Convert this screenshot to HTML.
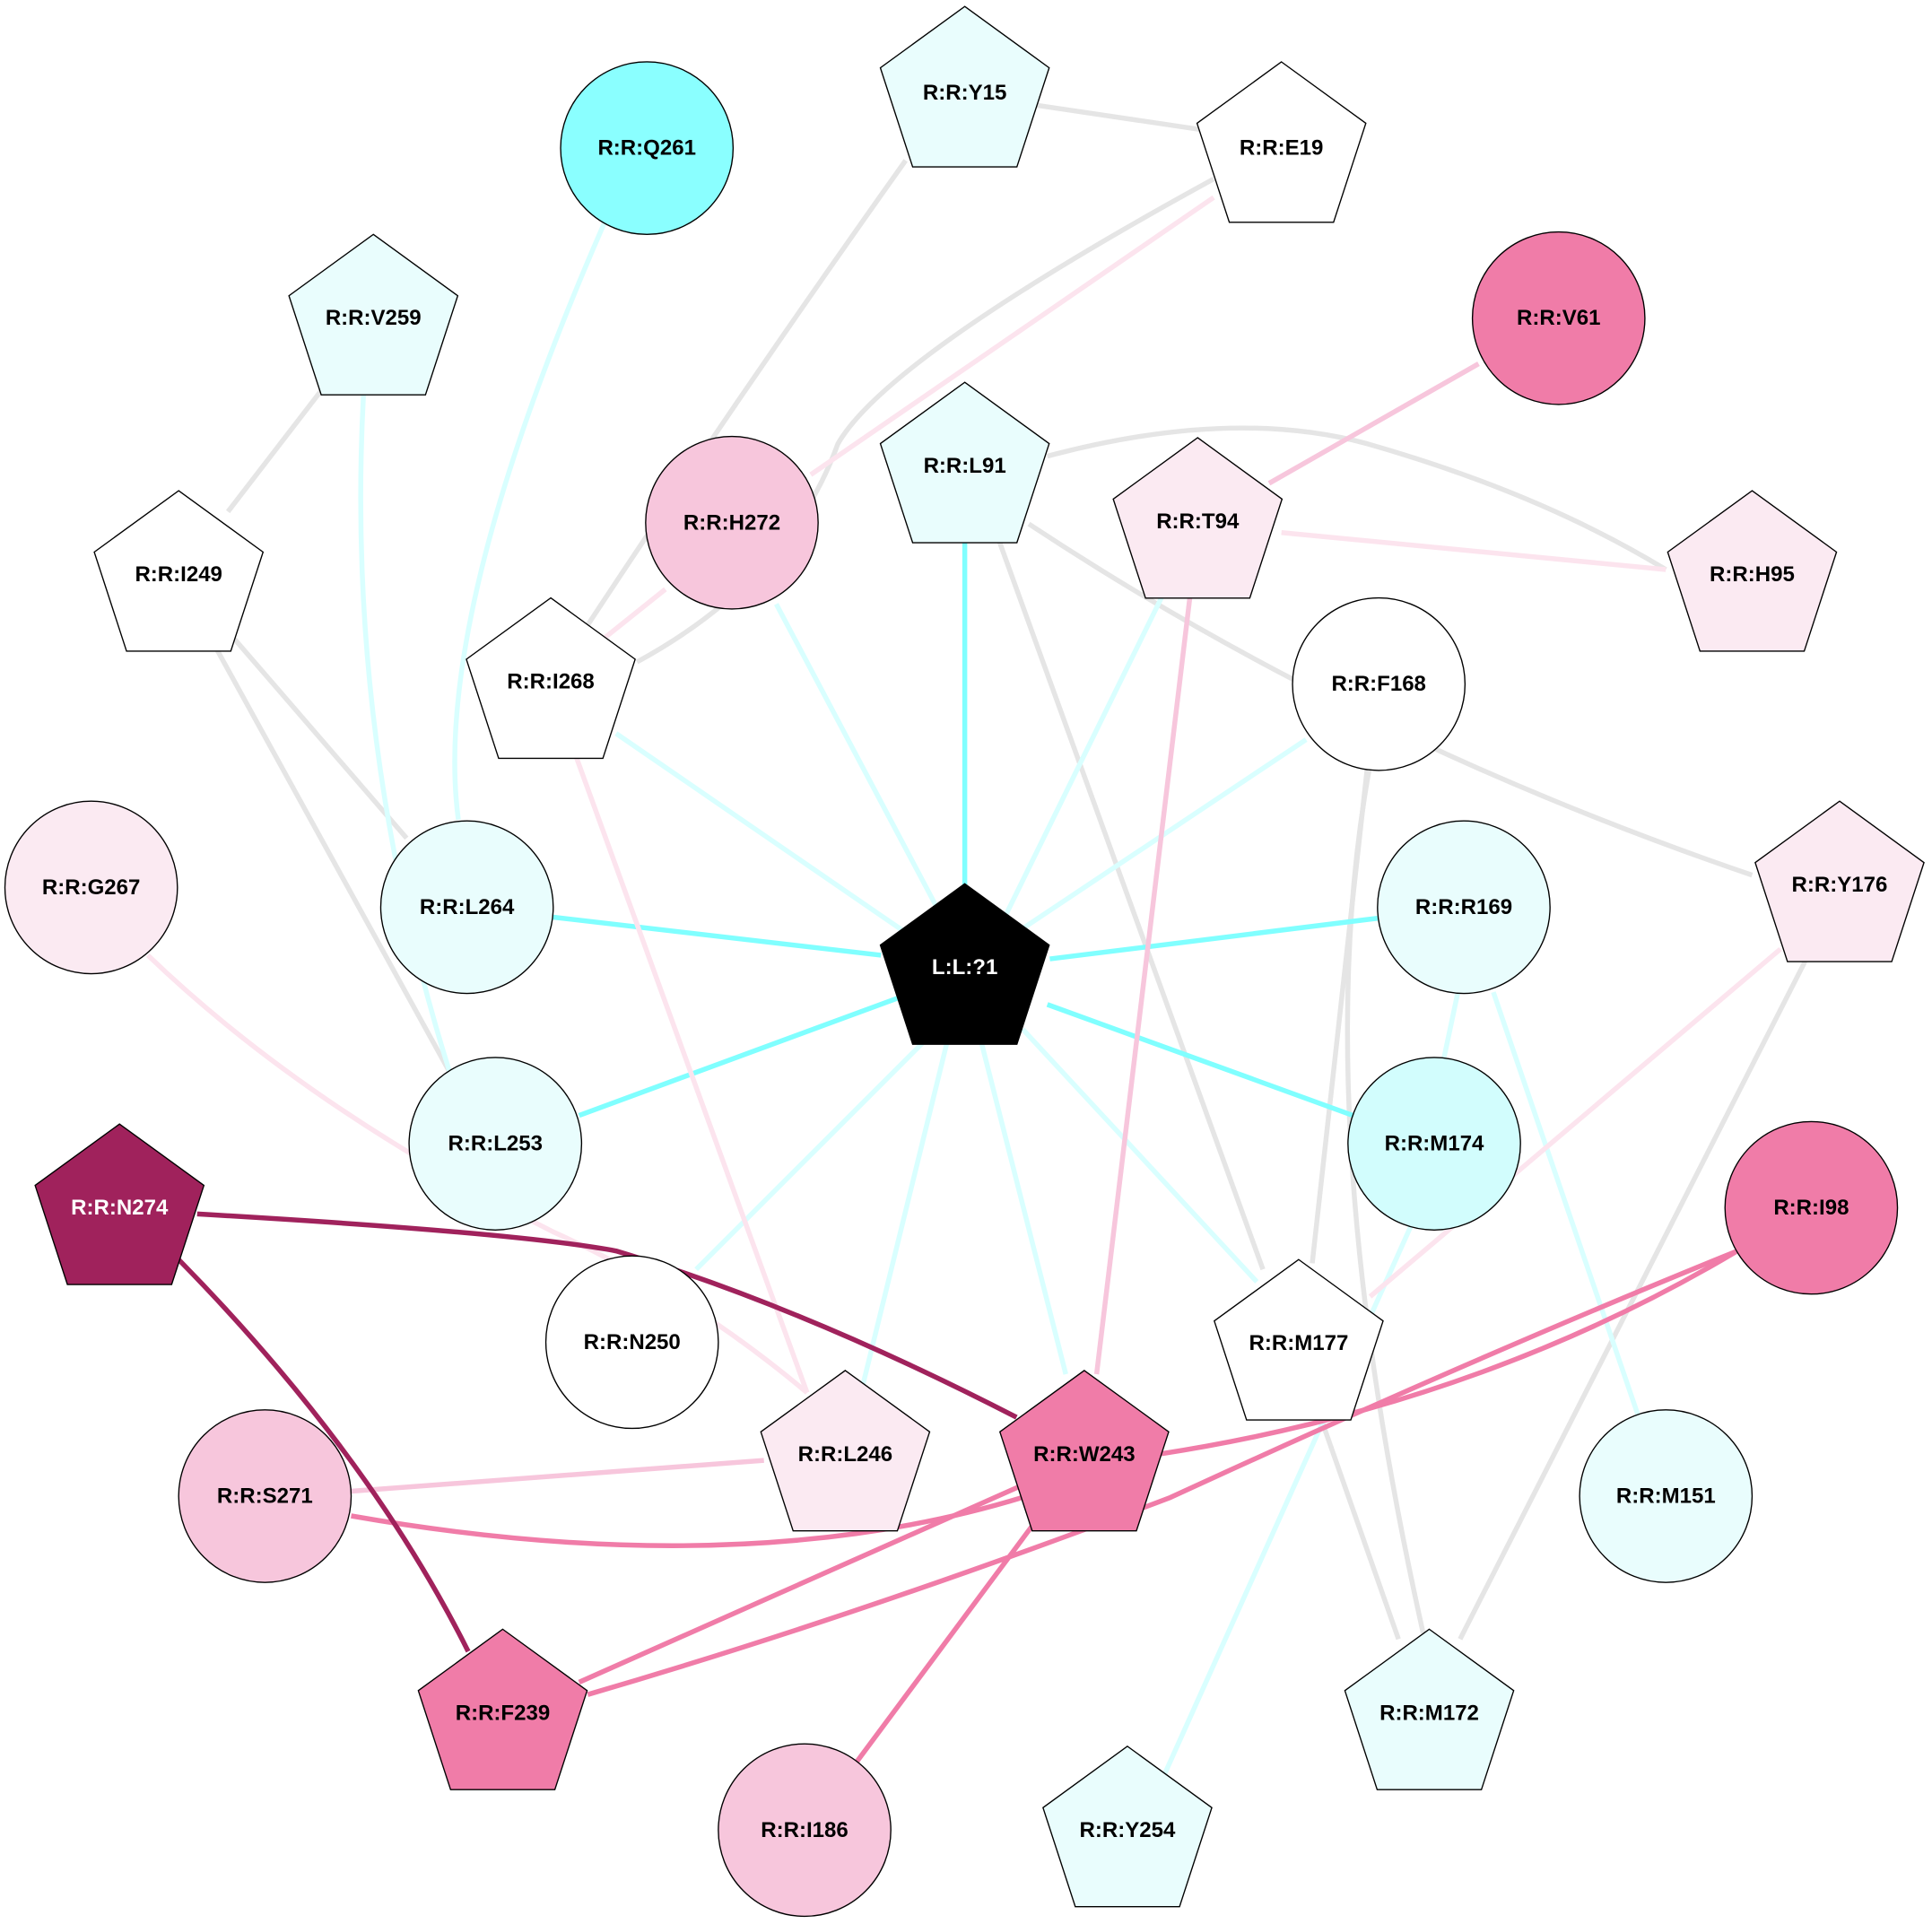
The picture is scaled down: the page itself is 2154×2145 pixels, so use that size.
<!DOCTYPE html>
<html><head><meta charset="utf-8"><style>
html,body{margin:0;padding:0;background:#fff;}
svg{display:block;}
text{font-family:"Liberation Sans",Arial,sans-serif;font-weight:bold;font-size:17.5px;text-anchor:middle;dominant-baseline:central;}
</style></head><body>
<svg width="2154" height="2145" viewBox="0 0 1568 1561" xmlns="http://www.w3.org/2000/svg">
<g fill="none" stroke-width="4">
<!-- gray -->
<g stroke="#e5e5e5">
<path d="M840,85 L975,105"/>
<path d="M735,130 Q600,320 475,510"/>
<path d="M985,145 Q720,290 680,360 Q640,470 517,537"/>
<path d="M262,315 L185,415"/>
<path d="M850,370 Q1000,330 1110,360 Q1250,400 1352,462"/>
<path d="M807,428 L1025,1030"/>
<path d="M835,425 Q1100,600 1422,710"/>
<path d="M190,518 L330,680"/>
<path d="M175,525 L365,870"/>
<path d="M1110,620 L1065,1025"/>
<path d="M1112,620 Q1060,900 1155,1325"/>
<path d="M1465,780 L1185,1330"/>
<path d="M1070,1145 L1135,1330"/>
</g>
<!-- light cyan -->
<g stroke="#d9ffff">
<path d="M493,175 Q350,500 372,665"/>
<path d="M295,320 Q280,600 365,870"/>
<path d="M945,480 L815,745"/>
<path d="M630,490 L765,745"/>
<path d="M500,595 L740,760"/>
<path d="M1060,600 L820,760"/>
<path d="M1183,806 L1172,858"/>
<path d="M1212,805 L1330,1150"/>
<path d="M765,830 L565,1030"/>
<path d="M770,840 L700,1125"/>
<path d="M795,840 L865,1115"/>
<path d="M830,835 L1020,1040"/>
<path d="M1145,995 L945,1440"/>
</g>
<!-- cyan strong -->
<g stroke="#80ffff">
<path d="M783,435 L783,718"/>
<path d="M448,744 L715,775"/>
<path d="M1118,745 L852,778"/>
<path d="M728,810 L470,905"/>
<path d="M850,815 L1098,905"/>
</g>
<!-- light pink -->
<g stroke="#fce4ee">
<path d="M985,160 L658,385"/>
<path d="M1040,432 L1352,462"/>
<path d="M540,478 L490,518"/>
<path d="M468,615 L655,1130"/>
<path d="M120,775 Q250,900 450,1000 Q560,1050 655,1130"/>
<path d="M1445,770 L1112,1052"/>
</g>
<!-- pink -->
<path stroke="#f7c6dc" d="M1200,295 L1030,392"/>
<path stroke="#f7c6dc" d="M966,482 L890,1115"/>
<path stroke="#f7c6dc" d="M285,1210 L620,1185"/>
<g stroke="#f07ca8">
<path d="M940,1180 Q1200,1140 1410,1015"/>
<path d="M477,1375 Q700,1310 950,1215 Q1200,1100 1410,1015"/>
<path d="M285,1230 Q600,1285 830,1215"/>
<path d="M830,1205 L470,1365"/>
<path d="M840,1235 L695,1430"/>
</g>
<g stroke="#a0225c">
<path d="M160,985 Q420,1000 500,1015 Q650,1060 825,1150"/>
<path d="M145,1022 Q300,1180 380,1340"/>
</g>
</g>
<!-- nodes -->
<g stroke="#000" stroke-width="1">
<circle cx="525" cy="120" r="70" fill="#8affff"/>
<circle cx="1265" cy="258" r="70" fill="#f07ca8"/>
<circle cx="594" cy="424" r="70" fill="#f7c6dc"/>
<circle cx="1119" cy="555" r="70" fill="#fff"/>
<circle cx="74" cy="720" r="70" fill="#fbeaf2"/>
<circle cx="379" cy="736" r="70" fill="#e9fdfd"/>
<circle cx="1188" cy="736" r="70" fill="#e9fdfd"/>
<circle cx="402" cy="928" r="70" fill="#e9fdfd"/>
<circle cx="1164" cy="928" r="70" fill="#d2fdfd"/>
<circle cx="1470" cy="980" r="70" fill="#f07ca8"/>
<circle cx="513" cy="1089" r="70" fill="#fff"/>
<circle cx="215" cy="1214" r="70" fill="#f7c6dc"/>
<circle cx="1352" cy="1214" r="70" fill="#e9fdfd"/>
<circle cx="653" cy="1485" r="70" fill="#f7c6dc"/>
</g>
<defs><path id="p" d="M0,-72 L68.5,-22.2 L42.3,58.2 L-42.3,58.2 L-68.5,-22.2 Z"/></defs>
<g stroke="#000" stroke-width="1">
<use href="#p" x="783" y="77" fill="#e9fdfd"/>
<use href="#p" x="1040" y="122" fill="#fff"/>
<use href="#p" x="303" y="262" fill="#e9fdfd"/>
<use href="#p" x="783" y="382" fill="#e9fdfd"/>
<use href="#p" x="972" y="427" fill="#fbeaf2"/>
<use href="#p" x="1422" y="470" fill="#fbeaf2"/>
<use href="#p" x="145" y="470" fill="#fff"/>
<use href="#p" x="447" y="557" fill="#fff"/>
<use href="#p" x="1493" y="722" fill="#fbeaf2"/>
<use href="#p" x="783" y="789" fill="#000"/>
<use href="#p" x="97" y="984" fill="#a0225c"/>
<use href="#p" x="1054" y="1094" fill="#fff"/>
<use href="#p" x="686" y="1184" fill="#fbeaf2"/>
<use href="#p" x="880" y="1184" fill="#f07ca8"/>
<use href="#p" x="408" y="1394" fill="#f07ca8"/>
<use href="#p" x="1160" y="1394" fill="#e9fdfd"/>
<use href="#p" x="915" y="1489" fill="#e9fdfd"/>
</g>
<g fill="#000">
<text x="525" y="120">R:R:Q261</text>
<text x="1265" y="258">R:R:V61</text>
<text x="594" y="424">R:R:H272</text>
<text x="1119" y="555">R:R:F168</text>
<text x="74" y="720">R:R:G267</text>
<text x="379" y="736">R:R:L264</text>
<text x="1188" y="736">R:R:R169</text>
<text x="402" y="928">R:R:L253</text>
<text x="1164" y="928">R:R:M174</text>
<text x="1470" y="980">R:R:I98</text>
<text x="513" y="1089">R:R:N250</text>
<text x="215" y="1214">R:R:S271</text>
<text x="1352" y="1214">R:R:M151</text>
<text x="653" y="1485">R:R:I186</text>
<text x="783" y="75">R:R:Y15</text>
<text x="1040" y="120">R:R:E19</text>
<text x="303" y="258">R:R:V259</text>
<text x="783" y="378">R:R:L91</text>
<text x="972" y="423">R:R:T94</text>
<text x="1422" y="466">R:R:H95</text>
<text x="145" y="466">R:R:I249</text>
<text x="447" y="553">R:R:I268</text>
<text x="1493" y="718">R:R:Y176</text>
<text x="1054" y="1090">R:R:M177</text>
<text x="686" y="1180">R:R:L246</text>
<text x="880" y="1180">R:R:W243</text>
<text x="408" y="1390">R:R:F239</text>
<text x="1160" y="1390">R:R:M172</text>
<text x="915" y="1485">R:R:Y254</text>
</g>
<text x="783" y="785" fill="#fff">L:L:?1</text>
<text x="97" y="980" fill="#fff">R:R:N274</text>
</svg>
</body></html>
